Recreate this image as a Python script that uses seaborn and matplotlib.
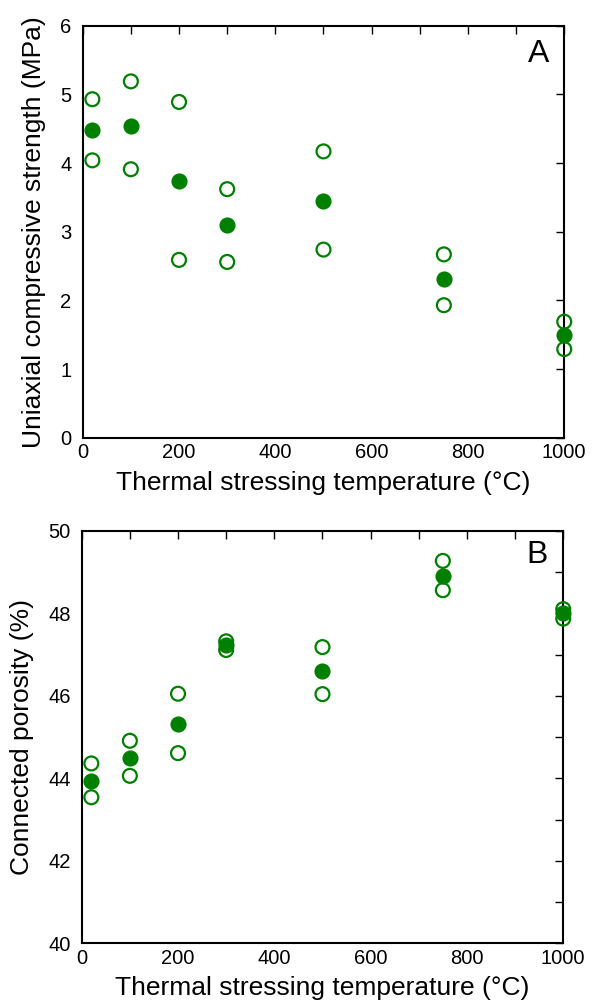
import matplotlib
matplotlib.use("Agg")
import matplotlib.pyplot as plt
import seaborn as sns
import pandas as pd
from matplotlib.ticker import MultipleLocator

sns.set_theme(style="white")
plt.rcParams['font.family'] = ['Liberation Sans', 'DejaVu Sans']

temps = [20, 100, 200, 300, 500, 750, 1000]
ucs_mean = [4.48, 4.54, 3.74, 3.10, 3.45, 2.31, 1.50]
ucs_hi = [4.93, 5.19, 4.89, 3.62, 4.17, 2.67, 1.69]
ucs_lo = [4.04, 3.91, 2.59, 2.56, 2.74, 1.93, 1.29]
por_mean = [43.94, 44.48, 45.31, 47.23, 46.60, 48.91, 48.00]
por_hi = [44.36, 44.91, 46.05, 47.32, 47.18, 49.27, 48.10]
por_lo = [43.54, 44.06, 44.61, 47.11, 46.04, 48.56, 47.87]

GREEN = "#008000"

fig = plt.figure(figsize=(5.93, 10.06), dpi=100)
axA = fig.add_axes([0.1395, 0.5649, 0.812, 0.4095])
axB = fig.add_axes([0.1378, 0.0623, 0.812, 0.4101])


def panel(ax, mean, hi, lo, ylim, ymaj, ylab_step, ylabel, letter, lpos, lpad):
    dm = pd.DataFrame({"T": temps, "v": mean})
    dr = pd.DataFrame({"T": temps * 2, "v": hi + lo})
    sns.scatterplot(data=dm, x="T", y="v", ax=ax, color=GREEN, s=135,
                    edgecolor=GREEN, linewidth=0, clip_on=False, zorder=3)
    sns.scatterplot(data=dr, x="T", y="v", ax=ax, facecolor="none",
                    edgecolor=GREEN, s=100, linewidth=1.6, clip_on=False, zorder=4)
    ax.set_xlim(0, 1000)
    ax.set_ylim(*ylim)
    ax.xaxis.set_major_locator(MultipleLocator(200))
    ax.xaxis.set_minor_locator(MultipleLocator(100))
    ax.yaxis.set_major_locator(MultipleLocator(ylab_step))
    ax.yaxis.set_minor_locator(MultipleLocator(ymaj))
    ax.tick_params(which="both", direction="in", top=True, right=True,
                   length=5.5, width=1.0, color="black", labelsize=14.5,
                   labelcolor="black")
    ax.tick_params(axis="x", which="major", pad=4)
    ax.tick_params(axis="y", which="major", pad=8)
    for sp in ax.spines.values():
        sp.set_color("black")
        sp.set_linewidth(1.5)
    ax.set_xlabel("Thermal stressing temperature (\u00b0C)", fontsize=19,
                  color="black", labelpad=6)
    ax.set_ylabel(ylabel, fontsize=19, color="black", labelpad=lpad)
    ax.text(lpos[0], lpos[1], letter, transform=ax.transAxes, fontsize=23,
            ha="center", va="center", color="black")


panel(axA, ucs_mean, ucs_hi, ucs_lo, (0, 6), 1, 1,
      "Uniaxial compressive strength (MPa)", "A", (0.947, 0.932), 10)
panel(axB, por_mean, por_hi, por_lo, (40, 50), 1, 2,
      "Connected porosity (%)", "B", (0.945, 0.942), 10)

fig.savefig("out.png", dpi=100)
